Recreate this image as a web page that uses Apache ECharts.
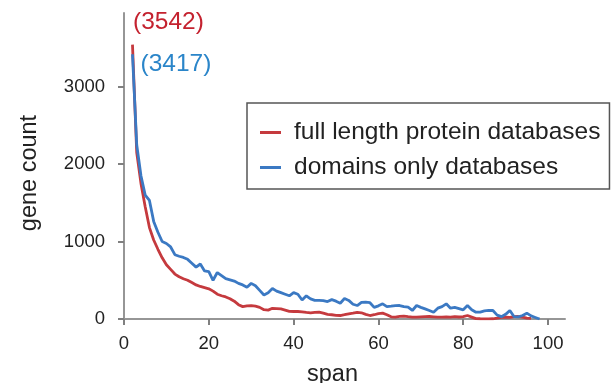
<!DOCTYPE html>
<html>
<head>
<meta charset="utf-8">
<script src="https://cdn.jsdelivr.net/npm/echarts@6/dist/echarts.min.js"></script>
<style>
  html, body { margin: 0; padding: 0; background: #fff; }
  #chart { width: 611px; height: 383px; }
</style>
</head>
<body>
<div id="chart"></div>
<script>
// gene counts per span, starting at span 2
var firstSpan = 2;
var fullLengthCounts = [
  3542, 2150, 1750, 1450, 1180, 1020, 900, 790, 700, 640,
  580, 545, 520, 500, 470, 440, 420, 405, 390, 360,
  320, 300, 285, 262, 230, 185, 160, 170, 172, 165,
  150, 120, 115, 138, 135, 130, 115, 98, 97, 97,
  92, 85, 80, 86, 88, 75, 60, 55, 48, 45,
  55, 67, 75, 85, 80, 60, 45, 55, 70, 75,
  55, 28, 25, 33, 36, 30, 25, 23, 27, 30,
  32, 28, 24, 23, 26, 25, 30, 26, 30, 45,
  25, 5, 3, 2, 2, 3, 10, 20, 25, 22,
  30, 32, 25, 12, 8
];
var domainsOnlyCounts = [
  3417, 2250, 1850, 1600, 1530, 1260, 1120, 1000, 975, 930,
  830, 810, 795, 770, 720, 670, 710, 620, 610, 500,
  600, 560, 520, 505, 490, 460, 440, 410, 460, 430,
  370, 310, 340, 393, 360, 340, 320, 300, 340, 320,
  245, 300, 260, 240, 240, 238, 225, 250, 230, 204,
  264, 240, 190, 174, 215, 217, 210, 150, 170, 196,
  160, 165, 172, 174, 160, 152, 110, 174, 150, 131,
  110, 88, 140, 160, 196, 140, 150, 135, 119, 174,
  120, 88, 90, 105, 110, 110, 50, 30, 60, 110,
  30, 28, 45, 75, 40, 20, 0
];
var xTicks = [0, 20, 40, 60, 80, 100];
var yTicks = [0, 1000, 2000, 3000];
var seriesNames = ['full length protein databases', 'domains only databases'];

var RED = '#c53a3e';
var BLUE = '#3b79c3';

function toPairs(counts) {
  var out = [];
  for (var i = 0; i < counts.length; i++) out.push([firstSpan + i, counts[i]]);
  return out;
}

var chart = echarts.init(document.getElementById('chart'));
var font = 'Liberation Sans, Arial, sans-serif';

chart.setOption({
  animation: false,
  textStyle: { fontFamily: font },
  grid: { left: 124, right: 46, top: 13, bottom: 64, outerBoundsMode: 'none', containLabel: false },
  xAxis: {
    type: 'value', min: 0, max: 104,
    name: 'span', nameLocation: 'middle', nameGap: 44,
    nameTextStyle: { fontSize: 23.5, color: '#222', padding: [0, 24, 0, 0] },
    splitLine: { show: false },
    axisLine: { lineStyle: { color: '#969696', width: 2 } },
    axisTick: { show: true, customValues: xTicks, length: 6, lineStyle: { color: '#808080', width: 2 } },
    axisLabel: { customValues: xTicks, fontSize: 18.5, color: '#222', margin: 15 }
  },
  yAxis: {
    type: 'value', min: 0, max: 3950,
    name: 'gene count', nameLocation: 'middle', nameGap: 82,
    nameTextStyle: { fontSize: 23.5, color: '#222', padding: [0, 14, 0, 0] },
    splitLine: { show: false },
    axisLine: { show: true, lineStyle: { color: '#969696', width: 2 } },
    axisTick: { show: true, customValues: yTicks, length: 6, lineStyle: { color: '#808080', width: 2 } },
    axisLabel: {
      customValues: yTicks, fontSize: 18.5, color: '#222', margin: 19,
      formatter: function (v) { return String(v); }
    }
  },
  legend: {
    orient: 'vertical', left: 247, top: 103,
    padding: [17, 9, 9, 13],
    itemGap: 10,
    itemWidth: 21, itemHeight: 3,
    icon: 'rect',
    borderColor: '#555', borderWidth: 1.5,
    textStyle: { fontSize: 24.5, color: '#222', padding: [0, 0, 0, 8] },
    data: seriesNames
  },
  series: [
    {
      name: seriesNames[0], type: 'line', data: toPairs(fullLengthCounts),
      showSymbol: false, color: RED,
      lineStyle: { width: 2.8, color: RED },
      markPoint: {
        symbol: 'circle', symbolSize: 0,
        data: [{ coord: [firstSpan, fullLengthCounts[0]], value: fullLengthCounts[0] }],
        label: { show: true, formatter: '({c})', position: 'top', offset: [36, -5], fontSize: 24.5, color: '#c4222f' }
      }
    },
    {
      name: seriesNames[1], type: 'line', data: toPairs(domainsOnlyCounts),
      showSymbol: false, color: BLUE,
      lineStyle: { width: 2.8, color: BLUE },
      markPoint: {
        symbol: 'circle', symbolSize: 0,
        data: [{ coord: [firstSpan, domainsOnlyCounts[0]], value: domainsOnlyCounts[0] }],
        label: { show: true, formatter: '({c})', position: 'right', offset: [3, 10], fontSize: 24.5, color: '#2a85c9' }
      }
    }
  ]
});
</script>
</body>
</html>
